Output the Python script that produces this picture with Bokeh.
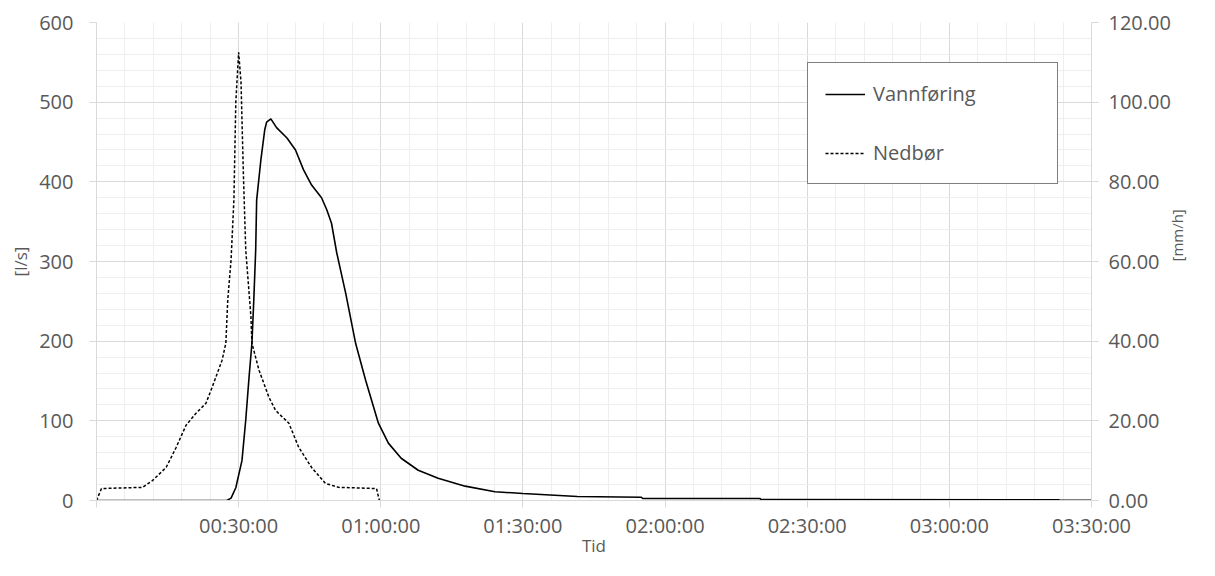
import math
from bokeh.plotting import figure
from bokeh.models import (Range1d, LinearAxis, FixedTicker, NumeralTickFormatter,
                          Legend, LegendItem)
from bokeh.embed import file_html
from bokeh.resources import INLINE

# ---------------- data ----------------
# time in minutes since start
flow_t = [0, 27.5, 28.4, 29.4, 30.7, 31.5, 32.2, 32.8, 33.2, 33.6, 33.8, 34.7,
          35.5, 35.9, 36.8, 38.0, 40.2, 42.0, 43.7, 45.4, 47.5, 48.6, 49.6, 50.7,
          52.6, 54.7, 56.8, 59.5, 61.6, 64.3, 67.9, 72.1, 77.8, 84.1, 90.0,
          101.5, 115.0, 115.3, 140.0, 140.3, 203.0, 203.3, 210]
flow_q = [0, 0, 3, 16, 50, 101, 155, 197, 252, 315, 377, 428,
          465, 475, 479, 468, 455, 440, 415, 396, 380, 365, 348, 311,
          260, 197, 151, 97, 72, 53, 38, 28, 18, 11, 8.8,
          5, 4, 2.5, 2.5, 1.2, 1.0, 0.2, 0.2]

rain_t = [0, 1.05, 9.7, 11.8, 14.7, 16.8, 18.9, 21.0, 23.1, 24.4, 26.5, 27.3,
          27.7, 28.4, 29.0, 29.4, 30.0, 30.5, 31.0, 31.5, 32.6, 32.8, 34.3,
          36.4, 37.8, 40.6, 42.7, 45.4, 48.3, 51.1, 59.1, 59.7]
rain_i = [0, 3.0, 3.3, 5.0, 8.3, 13.3, 18.9, 21.9, 24.4, 28.4, 35.2, 39.5,
          50.3, 60.4, 75.5, 100, 112.5, 105, 82, 62.9, 46.0, 39.5, 32.7,
          25.9, 22.6, 19.4, 13.3, 8.3, 4.3, 3.3, 3.0, 0]

x_ticks = [0, 30, 60, 90, 120, 150, 180, 210]
x_tick_labels = ["", "00:30:00", "01:00:00", "01:30:00", "02:00:00",
                 "02:30:00", "03:00:00", "03:30:00"]
series_names = ["Vannføring", "Nedbør"]

FONT = "Open Sans"
TXT = "#595959"
GRID = "#d9d9d9"
MINOR = "#eeeeee"

p = figure(width=1199, height=560, output_backend="svg", toolbar_location=None,
           x_range=Range1d(0, 210), y_range=Range1d(0, 600),
           min_border_left=96, min_border_right=103, min_border_top=22,
           min_border_bottom=60)
p.outline_line_color = None
p.background_fill_color = "white"
p.border_fill_color = "white"

p.extra_y_ranges = {"rain": Range1d(0, 120)}

r_flow = p.line(flow_t, flow_q, line_color="black", line_width=1.6)
r_rain = p.line(rain_t, rain_i, line_color="black", line_width=1.5,
                line_dash="3 2", y_range_name="rain")

# x axis
xa = p.xaxis[0]
xa.ticker = FixedTicker(ticks=x_ticks, minor_ticks=list(range(0, 211, 6)))
xa.major_label_overrides = {t: l for t, l in zip(x_ticks, x_tick_labels)}
xa.axis_label = "Tid"

# left axis
ya = p.yaxis[0]
ya.ticker = FixedTicker(ticks=list(range(0, 601, 100)),
                        minor_ticks=list(range(0, 601, 20)))
ya.axis_label = "[l/s]"

# right axis
ra = LinearAxis(y_range_name="rain", axis_label="[mm/h]",
                ticker=FixedTicker(ticks=list(range(0, 121, 20))),
                formatter=NumeralTickFormatter(format="0.00"))
p.add_layout(ra, "right")
ra.axis_label_orientation = math.pi / 2

for ax in (xa, ya, ra):
    ax.axis_line_color = GRID
    ax.major_tick_line_color = GRID
    ax.major_tick_out = 7
    ax.major_tick_in = 0
    ax.minor_tick_out = 0
    ax.minor_tick_in = 0
    ax.major_label_text_font = FONT
    ax.major_label_text_font_size = "20px"
    ax.major_label_text_color = TXT
    ax.axis_label_text_font = FONT
    ax.axis_label_text_font_size = "17px"
    ax.axis_label_text_font_style = "normal"
    ax.axis_label_text_color = TXT

ra.axis_label_text_font_size = "15px"

xa.major_label_standoff = 4
xa.axis_label_standoff = -8
ya.major_label_standoff = 16
ya.axis_label_standoff = 4
ra.major_label_standoff = 10
ra.axis_label_standoff = 3

# grids
p.xgrid.grid_line_color = GRID
p.ygrid.grid_line_color = GRID
p.xgrid.minor_grid_line_color = MINOR
p.ygrid.minor_grid_line_color = MINOR
p.xgrid.ticker = xa.ticker
p.ygrid.ticker = ya.ticker

legend = Legend(items=[LegendItem(label=series_names[0], renderers=[r_flow]),
                       LegendItem(label=series_names[1], renderers=[r_rain])],
                location=(711, 316), padding=17, spacing=32,
                label_height=22, glyph_height=22, glyph_width=40,
                label_standoff=8, label_width=167,
                border_line_color="black", border_line_width=1.5,
                background_fill_alpha=1.0, background_fill_color="white",
                label_text_font=FONT, label_text_font_size="20px",
                label_text_color=TXT, margin=0)
p.add_layout(legend)

open("out.html", "w").write(file_html(p, INLINE))
